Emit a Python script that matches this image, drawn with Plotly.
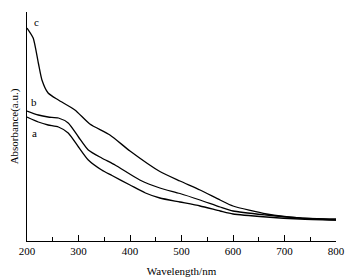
import plotly.graph_objects as go

wl_a = [200, 222, 241, 261, 280, 300, 319, 345, 365, 400, 430, 458, 497, 536, 575, 600, 665, 730, 800]
abs_a = [1.24, 1.19, 1.16, 1.14, 1.08, 0.94, 0.81, 0.71, 0.655, 0.56, 0.48, 0.43, 0.39, 0.35, 0.30, 0.27, 0.24, 0.22, 0.21]

wl_b = [200, 222, 241, 261, 280, 300, 319, 345, 371, 419, 458, 497, 536, 575, 600, 665, 730, 800]
abs_b = [1.30, 1.26, 1.24, 1.23, 1.18, 1.04, 0.91, 0.83, 0.76, 0.61, 0.53, 0.475, 0.41, 0.34, 0.30, 0.26, 0.23, 0.21]

wl_c = [200, 212, 222, 229, 241, 261, 293, 322, 361, 400, 458, 497, 536, 575, 600, 665, 730, 800]
abs_c = [2.13, 2.03, 1.78, 1.61, 1.48, 1.41, 1.31, 1.17, 1.06, 0.90, 0.695, 0.60, 0.51, 0.41, 0.35, 0.27, 0.23, 0.22]

labels = ["a", "b", "c"]
label_x = [214, 214, 219]
label_y = [1.08, 1.39, 2.19]

x_ticks = [200, 300, 400, 500, 600, 700, 800]

FONT = "Liberation Serif"

fig = go.Figure()
for wl, ab in [(wl_a, abs_a), (wl_b, abs_b), (wl_c, abs_c)]:
    fig.add_trace(go.Scatter(x=wl, y=ab, mode="lines",
                             line=dict(color="black", width=1.3, shape="spline", smoothing=0.6),
                             showlegend=False, hoverinfo="skip", cliponaxis=False))

for t, x, y in zip(labels, label_x, label_y):
    fig.add_annotation(x=x, y=y, text=t, showarrow=False,
                       font=dict(family=FONT, size=11, color="black"))

# page body has an 8px default margin, so the figure is offset by 8px
fig.update_layout(
    width=349, height=272,
    margin=dict(l=19, r=21, t=4, b=39, autoexpand=False),
    paper_bgcolor="white", plot_bgcolor="white",
    font=dict(family=FONT, size=11, color="black"),
    xaxis=dict(range=[200, 800], tickvals=x_ticks, ticktext=[str(v) for v in x_ticks],
               ticks="inside", ticklen=6, tickwidth=1, tickcolor="black",
               minor=dict(tickvals=[250, 350, 450, 550, 650, 750], ticks="inside", ticklen=4, tickcolor="black", tickwidth=1),
               showline=True, linecolor="black", linewidth=1.2, showgrid=False, zeroline=False,
               automargin=False,
               title=dict(text="Wavelength/nm", font=dict(family=FONT, size=11), standoff=11),
               tickfont=dict(family=FONT, size=11)),
    yaxis=dict(range=[0, 2.29], tickvals=[2.29], ticktext=[""],
               ticks="inside", ticklen=6, tickcolor="black",
               showline=True, linecolor="black", linewidth=1.2, showgrid=False, zeroline=False,
               automargin=False,
               title=dict(text="Absorbance(a.u.)", font=dict(family=FONT, size=11), standoff=14)),
)

fig.write_html("out.html")
